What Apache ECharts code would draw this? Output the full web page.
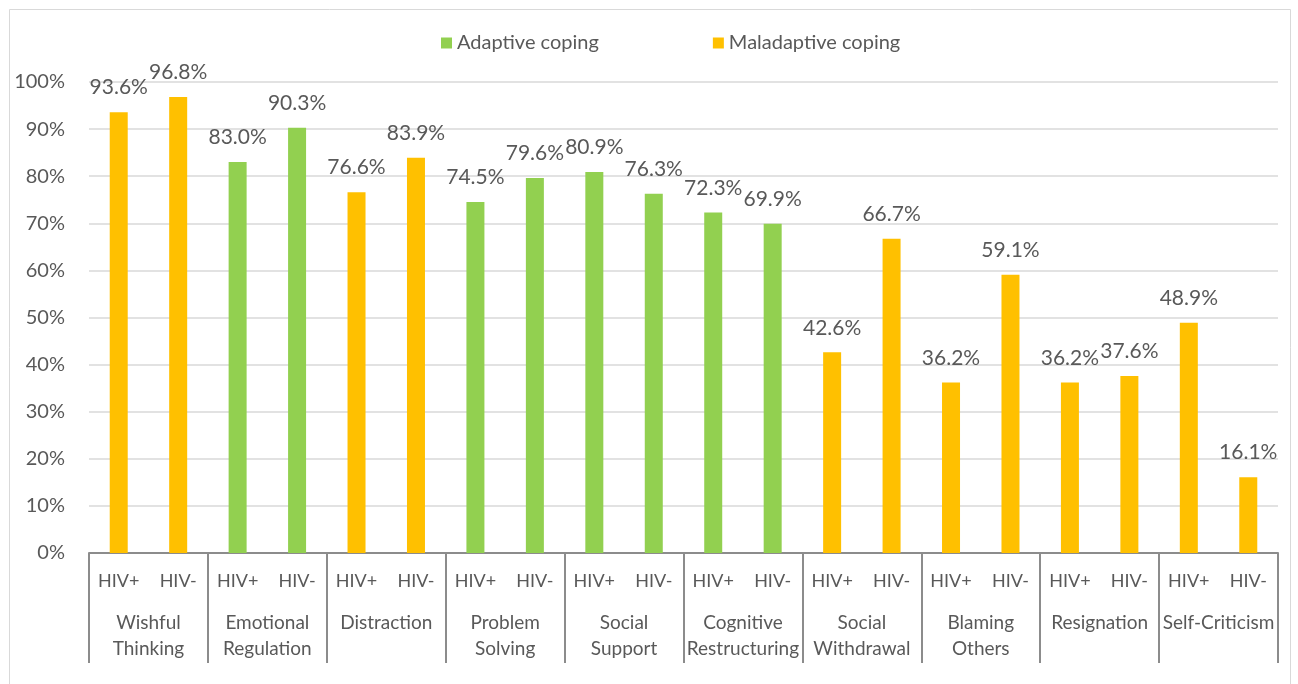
<!DOCTYPE html>
<html>
<head>
<meta charset="utf-8">
<script src="https://cdn.jsdelivr.net/npm/echarts@6/dist/echarts.min.js"></script>
<style>
  html, body { margin: 0; padding: 0; background: #ffffff; }
  #chart { width: 1298px; height: 684px; }
</style>
</head>
<body>
<div id="chart"></div>
<script>
// Coping strategies, each measured for HIV+ and HIV- groups (percent)
const groups = ['Wishful\nThinking', 'Emotional\nRegulation', 'Distraction', 'Problem\nSolving', 'Social\nSupport',
  'Cognitive\nRestructuring', 'Social\nWithdrawal', 'Blaming\nOthers', 'Resignation', 'Self-Criticism'];
const groupTypes = ['mal', 'ada', 'mal', 'ada', 'ada', 'ada', 'mal', 'mal', 'mal', 'mal'];
const hivPositive = [93.6, 83.0, 76.6, 74.5, 80.9, 72.3, 42.6, 36.2, 36.2, 48.9];
const hivNegative = [96.8, 90.3, 83.9, 79.6, 76.3, 69.9, 66.7, 59.1, 37.6, 16.1];
const subLabels = ['HIV+', 'HIV-'];
const yTicks = [0, 10, 20, 30, 40, 50, 60, 70, 80, 90, 100];

const GREEN = '#92D050';
const ORANGE = '#FFC000';
const TEXT = '#595959';
const FONT = 'Lato, "Open Sans", sans-serif';

// Flatten groups into HIV+/HIV- category slots
const slots = [];
const adaptiveData = [];
const maladaptiveData = [];
groups.forEach((g, i) => {
  [hivPositive[i], hivNegative[i]].forEach((v, k) => {
    slots.push(subLabels[k]);
    adaptiveData.push(groupTypes[i] === 'ada' ? v : '-');
    maladaptiveData.push(groupTypes[i] === 'mal' ? v : '-');
  });
});

const barLabel = {
  show: true,
  position: 'top',
  distance: 14,
  color: TEXT,
  fontFamily: FONT,
  fontSize: 21,
  formatter: p => Number(p.value).toFixed(1) + '%'
};

const chart = echarts.init(document.getElementById('chart'));
chart.setOption({
  animation: false,
  backgroundColor: '#ffffff',
  graphic: [{
    type: 'rect',
    shape: { x: 9.5, y: 9.5, width: 1281, height: 690 },
    style: { fill: 'none', stroke: '#d9d9d9', lineWidth: 1 },
    silent: true
  }],
  legend: {
    top: 28,
    left: 436,
    itemWidth: 11,
    itemHeight: 11,
    itemGap: 114,
    icon: 'rect',
    textStyle: { color: TEXT, fontFamily: FONT, fontSize: 20 },
    data: ['Adaptive coping', 'Maladaptive coping']
  },
  grid: { left: 89, right: 20, top: 82, bottom: 131, containLabel: false },
  xAxis: [{
    type: 'category',
    data: slots,
    axisLine: { show: true, lineStyle: { color: '#8c8c8c', width: 2 } },
    axisTick: { show: false },
    axisLabel: { interval: 0, margin: 19, color: TEXT, fontFamily: FONT, fontSize: 18 }
  }, {
    type: 'category',
    position: 'bottom',
    data: groups,
    axisLine: { show: false },
    axisTick: { show: true, length: 110, lineStyle: { color: '#8c8c8c', width: 2 } },
    axisLabel: {
      interval: 0, margin: 57, color: TEXT, fontFamily: FONT, fontSize: 19,
      lineHeight: 26, verticalAlign: 'top'
    }
  }],
  yAxis: {
    type: 'value',
    min: yTicks[0],
    max: yTicks[yTicks.length - 1],
    interval: 10,
    axisLine: { show: false },
    axisTick: { show: false },
    splitLine: { lineStyle: { color: '#d9d9d9', width: 1.5 } },
    axisLabel: { margin: 24, color: TEXT, fontFamily: FONT, fontSize: 20, formatter: '{value}%' }
  },
  series: [{
    name: 'Adaptive coping',
    type: 'bar',
    xAxisIndex: 0,
    data: adaptiveData,
    barWidth: 18,
    barGap: '-100%',
    itemStyle: { color: GREEN },
    label: barLabel
  }, {
    name: 'Maladaptive coping',
    type: 'bar',
    xAxisIndex: 0,
    data: maladaptiveData,
    barWidth: 18,
    barGap: '-100%',
    itemStyle: { color: ORANGE },
    label: barLabel
  }]
});
</script>
</body>
</html>
